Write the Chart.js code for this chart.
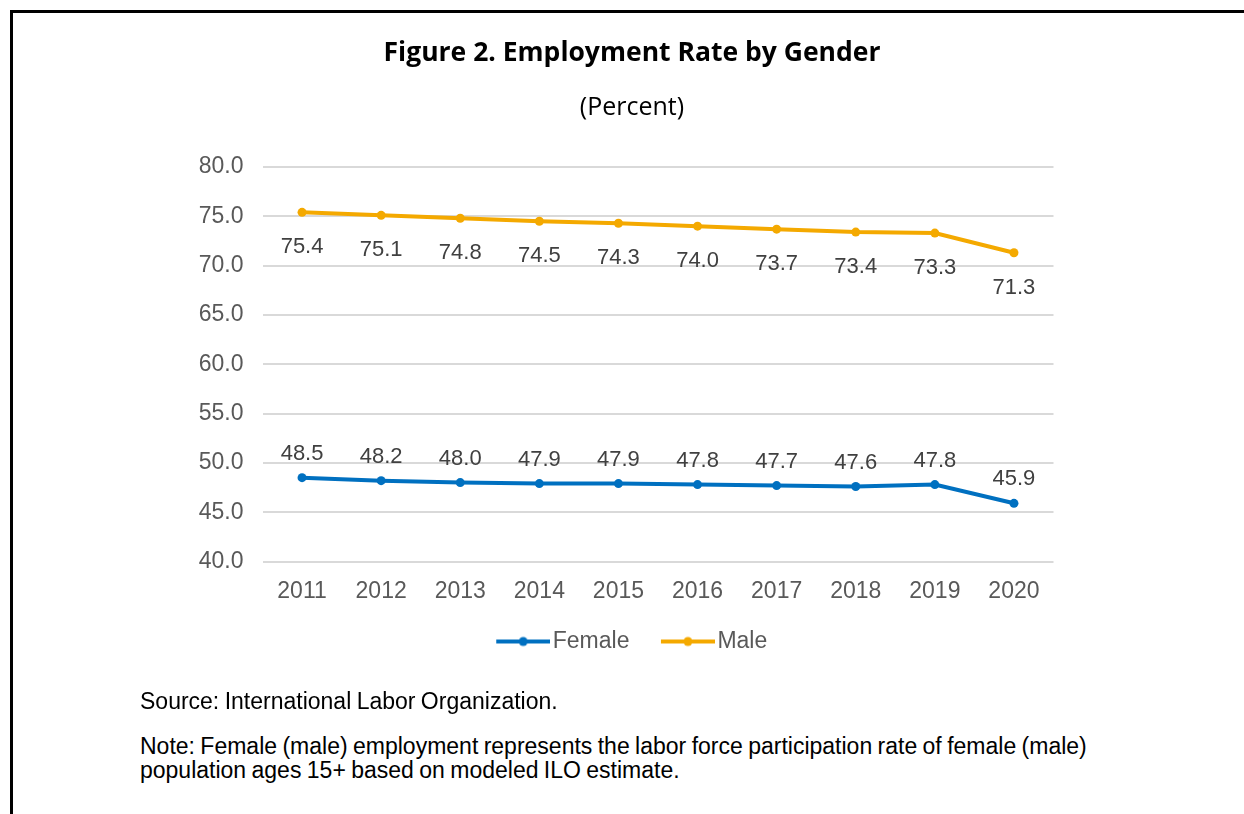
<!DOCTYPE html>
<html>
<head>
<meta charset="utf-8">
<script src="https://cdn.jsdelivr.net/npm/chart.js@4"></script>
<style>
  html, body { margin: 0; padding: 0; background: #fff; }
  #page { position: relative; width: 1244px; height: 814px; overflow: hidden; }
  #frame { position: absolute; left: 10px; top: 10px; width: 1260px; height: 830px;
           border-left: 3px solid #000; border-top: 3px solid #000; }
  #chartBox { position: absolute; left: 0; top: 0; width: 1244px; height: 700px; }
  .txt { position: absolute; color: #000; white-space: nowrap; }
  #title { left: 0; width: 1264px; top: 33px; text-align: center; font: bold 26.5px "Open Sans", sans-serif; }
  #subtitle { left: 0; width: 1264px; top: 88px; text-align: center; font: 25px "Open Sans", sans-serif; }
  .note { left: 140px; font: 23px "Liberation Sans", Arial, sans-serif; line-height: 24px; word-spacing: -1px; }
</style>
</head>
<body>
<div id="page">
  <div id="frame"></div>
  <div id="chartBox"><canvas id="empChart"></canvas></div>
  <div class="txt" id="title">Figure 2. Employment Rate by Gender</div>
  <div class="txt" id="subtitle">(Percent)</div>
  <div class="txt note" style="top:689px">Source: International Labor Organization.</div>
  <div class="txt note" style="top:734px">Note: Female (male) employment represents the labor force participation rate of female (male)</div>
  <div class="txt note" style="top:758px">population ages 15+ based on modeled ILO estimate.</div>
</div>
<script>
  // data
  var years = ["2011", "2012", "2013", "2014", "2015", "2016", "2017", "2018", "2019", "2020"];
  var female = [48.5, 48.2, 48.0, 47.9, 47.9, 47.8, 47.7, 47.6, 47.8, 45.9];
  var male = [75.4, 75.1, 74.8, 74.5, 74.3, 74.0, 73.7, 73.4, 73.3, 71.3];
  var yTicks = [40, 45, 50, 55, 60, 65, 70, 75, 80];

  var blue = '#0070C0';
  var gold = '#F4A900';
  var axisFont = '"Liberation Sans", Arial, sans-serif';

  // legend marker: a line with a dot, drawn in the right part of a wider transparent image
  function legendMark(color) {
    var c = document.createElement('canvas');
    c.width = 70; c.height = 12;
    var g = c.getContext('2d');
    g.strokeStyle = color;
    g.lineWidth = 4;
    g.beginPath(); g.moveTo(16, 6); g.lineTo(70, 6); g.stroke();
    g.fillStyle = color;
    g.beginPath(); g.arc(43, 6, 4.5, 0, Math.PI * 2); g.fill();
    return c;
  }

  // value labels: male below the line, female above it
  var valueLabels = {
    id: 'valueLabels',
    afterDatasetsDraw: function (chart) {
      var ctx = chart.ctx;
      ctx.save();
      ctx.font = '22px ' + axisFont;
      ctx.fillStyle = '#404040';
      ctx.textAlign = 'center';
      ctx.textBaseline = 'middle';
      chart.data.datasets.forEach(function (ds, i) {
        var offset = ds.label === 'Male' ? 35 : -24;
        chart.getDatasetMeta(i).data.forEach(function (pt, j) {
          ctx.fillText(ds.data[j].toFixed(1), pt.x, pt.y + offset);
        });
      });
      ctx.restore();
    }
  };

  var ctx = document.getElementById('empChart').getContext('2d');
  var chart = new Chart(ctx, {
    type: 'line',
    data: {
      labels: years,
      datasets: [{
        label: 'Female',
        data: female,
        yAxisID: 'y',
        borderColor: blue,
        backgroundColor: blue,
        borderWidth: 4,
        pointRadius: 4.5,
        pointBorderWidth: 0,
        tension: 0
      }, {
        label: 'Male',
        data: male,
        yAxisID: 'y',
        borderColor: gold,
        backgroundColor: gold,
        borderWidth: 4,
        pointRadius: 4.5,
        pointBorderWidth: 0,
        tension: 0
      }]
    },
    plugins: [valueLabels],
    options: {
      responsive: true,
      maintainAspectRatio: false,
      animation: false,
      layout: { padding: { left: 160, right: 147.5, top: 167, bottom: 37 } },
      scales: {
        x: {
          offset: true,
          grid: { display: false, drawTicks: false },
          border: { display: false },
          ticks: { color: '#595959', padding: 16, font: { family: axisFont, size: 23 } },
          afterFit: function (s) { s.height = 44; }
        },
        y: {
          min: 40,
          max: 80,
          afterBuildTicks: function (s) { s.ticks = yTicks.map(function (v) { return { value: v }; }); },
          grid: { color: '#d9d9d9', lineWidth: 2, drawTicks: false },
          border: { display: false },
          ticks: {
            color: '#595959',
            padding: 19,
            font: { family: axisFont, size: 23 },
            callback: function (v) { return Number(v).toFixed(1); }
          },
          afterFit: function (s) { s.width = 102.5; }
        },
        // empty spacer on the right so the legend centres where the original's does
        spacer: {
          axis: 'y',
          position: 'right',
          grid: { display: false, drawTicks: false },
          border: { display: false },
          ticks: { display: false },
          afterFit: function (s) { s.width = 43; }
        }
      },
      plugins: {
        tooltip: { enabled: false },
        legend: {
          position: 'bottom',
          labels: {
            color: '#595959',
            font: { family: axisFont, size: 23 },
            usePointStyle: true,
            pointStyleWidth: 52,
            padding: 24.5,
            generateLabels: function (ch) {
              return ch.data.datasets.map(function (ds, i) {
                return {
                  text: ds.label,
                  pointStyle: legendMark(ds.borderColor),
                  fillStyle: ds.borderColor,
                  strokeStyle: ds.borderColor,
                  lineWidth: 0,
                  fontColor: '#595959',
                  datasetIndex: i
                };
              });
            }
          }
        }
      }
    }
  });
</script>
</body>
</html>
